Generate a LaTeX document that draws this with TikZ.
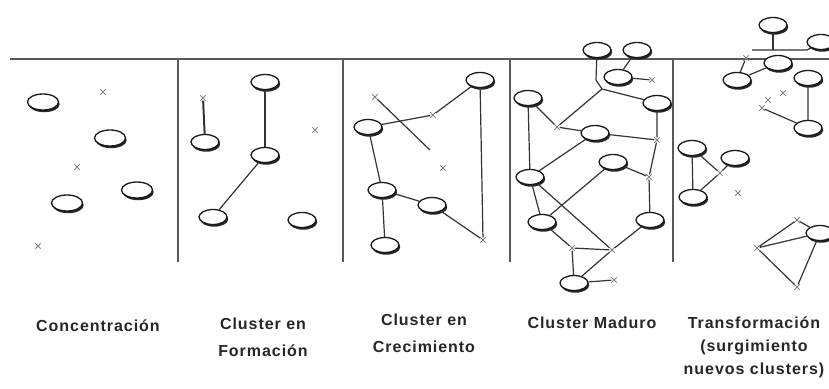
\documentclass[tikz,border=0pt]{standalone}
\usepackage{fontspec}
\newfontfamily\labfont{Liberation Sans}[LetterSpace=6]
\usetikzlibrary{shapes.geometric,shapes.misc}
\begin{document}
\begin{tikzpicture}[x=1pt,y=-1pt,
  nd/.style={ellipse,draw=black!90,line width=1.3pt,fill=white,minimum width=28pt,minimum height=15pt,inner sep=0pt,
    preaction={fill=black!85,transform canvas={shift={(1.2pt,-2.2pt)}}}},
  ndb/.style={nd,minimum width=31pt,minimum height=16pt},
  mk/.style={cross out,draw=black!50,line width=0.8pt,minimum size=4.5pt,inner sep=0pt},
  ln/.style={draw=black!80,line width=1.2pt},
  sep/.style={draw=black!65,line width=1.1pt},
  lab/.style={font=\labfont\bfseries\fontsize{16}{27}\selectfont,align=center,text=black!85}]
\useasboundingbox (0,0) rectangle (829,388);
% frame
\draw[sep,line width=1.6pt] (10,59) -- (829,59);
\foreach \x in {178,343,510,673} \draw[sep] (\x,59) -- (\x,262);
% Panel 1
\node[ndb] (a1) at (43,102) {};
\node[mk] (a2) at (103,92) {};
\node[ndb] (a3) at (110,138) {};
\node[mk] (a4) at (77,167) {};
\node[ndb] (a5) at (137,190) {};
\node[ndb] (a6) at (67,203) {};
\node[mk] (a7) at (38,246) {};
% Panel 2
\node[nd] (b1) at (265,82) {};
\node[mk] (b2) at (203,98) {};
\node[nd] (b3) at (205,142) {};
\node[mk] (b4) at (315,130) {};
\node[nd] (b5) at (265,155) {};
\node[nd] (b6) at (213,217) {};
\node[nd] (b7) at (302,220) {};
\draw[ln,line width=2pt] (b2) -- (b3);
\draw[ln] (b1) -- (b5);
\draw[ln] (b5) -- (b6);
% Panel 3
\node[nd] (c1) at (480,80) {};
\node[mk] (c2) at (375,97) {};
\node[nd] (c3) at (368,127) {};
\node[mk] (c4) at (433,115) {};
\coordinate (c5) at (430,150);
\node[mk] (c6) at (443,168) {};
\node[nd] (c7) at (382,190) {};
\node[nd] (c8) at (432,205) {};
\node[mk] (c9) at (483,240) {};
\node[nd] (c10) at (385,245) {};
\draw[ln] (c3) -- (c4) -- (c1);
\draw[ln] (c2) -- (c5);
\draw[ln] (c3) -- (c7) -- (c8) -- (c9);
\draw[ln] (c1) -- (c9);
\draw[ln] (c7) -- (c10);
% Panel 4
\node[nd] (d1) at (597,50) {};
\node[nd] (d2) at (637,50) {};
\node[nd] (d3) at (618,77) {};
\node[mk] (d4) at (652,80) {};
\node[nd] (d5) at (657,103) {};
\node[nd] (d6) at (528,98) {};
\node[mk] (d7) at (557,127) {};
\node[nd] (d8) at (595,133) {};
\node[mk] (d9) at (657,140) {};
\node[nd] (d10) at (613,162) {};
\node[mk] (d11) at (649,177) {};
\node[nd] (d12) at (530,177) {};
\node[nd] (d13) at (650,220) {};
\node[nd] (d14) at (542,222) {};
\node[mk] (d15) at (572,248) {};
\node[mk] (d16) at (612,250) {};
\node[nd] (d17) at (574,283) {};
\node[mk] (d18) at (614,280) {};
\coordinate (dk) at (596,80);
\coordinate (dj) at (602,89);
\draw[ln] (d1) -- (dk) -- (dj) -- (d5);
\draw[ln] (dj) -- (d7);
\draw[ln] (d2) -- (d3) -- (d4);
\draw[ln] (d6) -- (d7) -- (d8) -- (d9);
\draw[ln] (d5) -- (d9) -- (d11) -- (d13);
\draw[ln] (d10) -- (d11);
\draw[ln] (d6) -- (d12) -- (d8);
\draw[ln] (d12) -- (d14);
\draw[ln] (d10) -- (d14);
\draw[ln] (d12) -- (d16) -- (d13);
\draw[ln] (d14) -- (d15) -- (d16) -- (d17) -- (d15);
\draw[ln] (d17) -- (d18);
% Panel 5
\node[nd] (e1) at (773,25) {};
\node[nd] (e2) at (821,42) {};
\coordinate (eb1) at (752,50);
\coordinate (ebm) at (773,50);
\coordinate (eb2) at (807,50);
\draw[ln] (e1) -- (ebm);
\draw[ln] (eb1) -- (eb2) -- (e2);
\node[nd] (e3) at (778,63) {};
\node[nd] (e4) at (737,80) {};
\node[mk] (e5) at (746,58) {};
\node[nd] (e6) at (808,78) {};
\node[mk] (e7) at (783,93) {};
\node[mk] (e8) at (768,100) {};
\node[mk] (e9) at (762,108) {};
\node[nd] (e10) at (808,128) {};
\draw[ln] (e4) -- (e3);
\draw[ln] (e4) -- (e5);
\draw[ln] (e6) -- (e10) -- (e9);
\node[nd] (e11) at (692,148) {};
\node[nd] (e12) at (735,158) {};
\node[nd] (e13) at (693,197) {};
\node[mk] (e14) at (720,173) {};
\node[mk] (e15) at (738,193) {};
\draw[ln] (e11) -- (e13) -- (e14) -- (e12);
\draw[ln] (e11) -- (e14);
\node[nd] (e16) at (820,233) {};
\node[mk] (e17) at (797,220) {};
\node[mk] (e18) at (757,248) {};
\node[mk] (e19) at (797,287) {};
\draw[ln] (e18) -- (e17) -- (e16) -- (e18) -- (e19) -- (e16);
% Labels
\node[lab] (l1) at (98,326) {Concentración};
\node[lab,anchor=north] (l2) at (263,314) {Cluster en\\Formación};
\node[lab,anchor=north] (l3) at (424,310) {Cluster en\\Crecimiento};
\node[lab] (l4) at (592,323) {Cluster Maduro};
\node[lab,anchor=north,font=\labfont\bfseries\fontsize{16}{23}\selectfont] (l5) at (754,313) {Transformación\\(surgimiento\\nuevos clusters)};
\end{tikzpicture}
\end{document}
